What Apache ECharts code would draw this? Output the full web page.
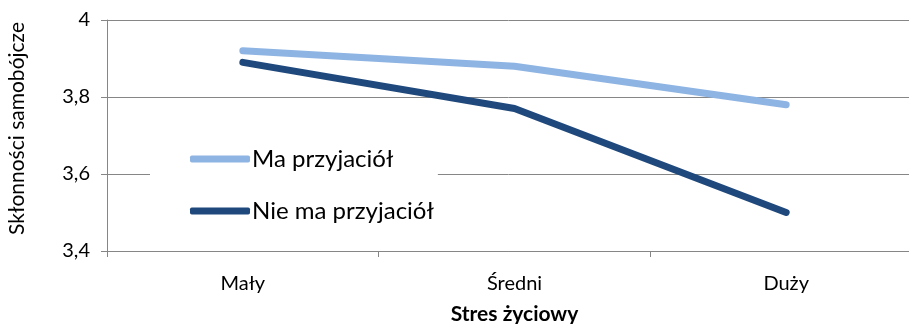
<!DOCTYPE html>
<html><head><meta charset="utf-8">
<script src="https://cdn.jsdelivr.net/npm/echarts@6/dist/echarts.min.js"></script>
<style>html,body{margin:0;padding:0;background:#fff}#c{width:909px;height:324px}</style>
</head><body><div id="c"></div>
<script>
const categories = ['Mały', 'Średni', 'Duży'];
const seriesNames = ['Ma przyjaciół', 'Nie ma przyjaciół'];
const maPrzyjaciol = [3.92, 3.88, 3.78];
const nieMaPrzyjaciol = [3.89, 3.77, 3.50];
const yMin = 3.4, yMax = 4.0, yStep = 0.2;

const FONT = 'Lato, "Noto Sans", sans-serif';
const AX = '#868686';
const chart = echarts.init(document.getElementById('c'), null, {renderer: 'canvas'});
chart.setOption({
  animation: false,
  backgroundColor: '#fff',
  textStyle: {fontFamily: FONT},
  grid: {left: 107, top: 20, width: 815, bottom: 73, containLabel: false, outerBoundsMode: 'none'},
  legend: {
    orient: 'vertical', left: 150, top: 135,
    padding: [12, 4, 12, 40],
    backgroundColor: '#fff',
    itemWidth: 60, itemHeight: 7, itemGap: 28,
    icon: 'roundRect',
    textStyle: {fontFamily: FONT, fontSize: 24, color: '#000', lineHeight: 24, padding: [0,0,0,-3]},
    data: seriesNames
  },
  xAxis: {
    type: 'category', data: categories, boundaryGap: true,
    name: 'Stres życiowy', nameLocation: 'middle', nameGap: 53,
    nameTextStyle: {fontFamily: FONT, fontSize: 21, fontWeight: 'bold', color: '#000'},
    axisLine: {lineStyle: {color: AX, width: 1}},
    axisTick: {show: true, interval: 0, length: 6, lineStyle: {color: AX}},
    axisLabel: {fontFamily: FONT, fontSize: 20, color: '#000', margin: 23},
    splitLine: {show: false}
  },
  yAxis: {
    type: 'value', min: yMin, max: yMax, interval: yStep,
    name: 'Skłonności samobójcze', nameLocation: 'middle', nameGap: 79,
    nameTextStyle: {fontFamily: FONT, fontSize: 21, color: '#000', padding: [0, 0, 0, 14]},
    axisLine: {show: true, lineStyle: {color: AX, width: 1}},
    axisTick: {show: true, length: 6, lineStyle: {color: AX}},
    axisLabel: {fontFamily: FONT, fontSize: 20, color: '#000', margin: 17,
      formatter: v => { const s = (+v).toFixed(1); return s.endsWith('.0') ? s.slice(0, -2) : s.replace('.', ','); }},
    splitLine: {show: true, lineStyle: {color: AX, width: 1}}
  },
  series: [
    {name: seriesNames[0], type: 'line', data: maPrzyjaciol, symbol: 'none',
     lineStyle: {color: '#8EB4E3', width: 7, cap: 'round', join: 'round'}, itemStyle: {color: '#8EB4E3'}},
    {name: seriesNames[1], type: 'line', data: nieMaPrzyjaciol, symbol: 'none',
     lineStyle: {color: '#1F497D', width: 7, cap: 'round', join: 'round'}, itemStyle: {color: '#1F497D'}}
  ]
});
</script></body></html>
